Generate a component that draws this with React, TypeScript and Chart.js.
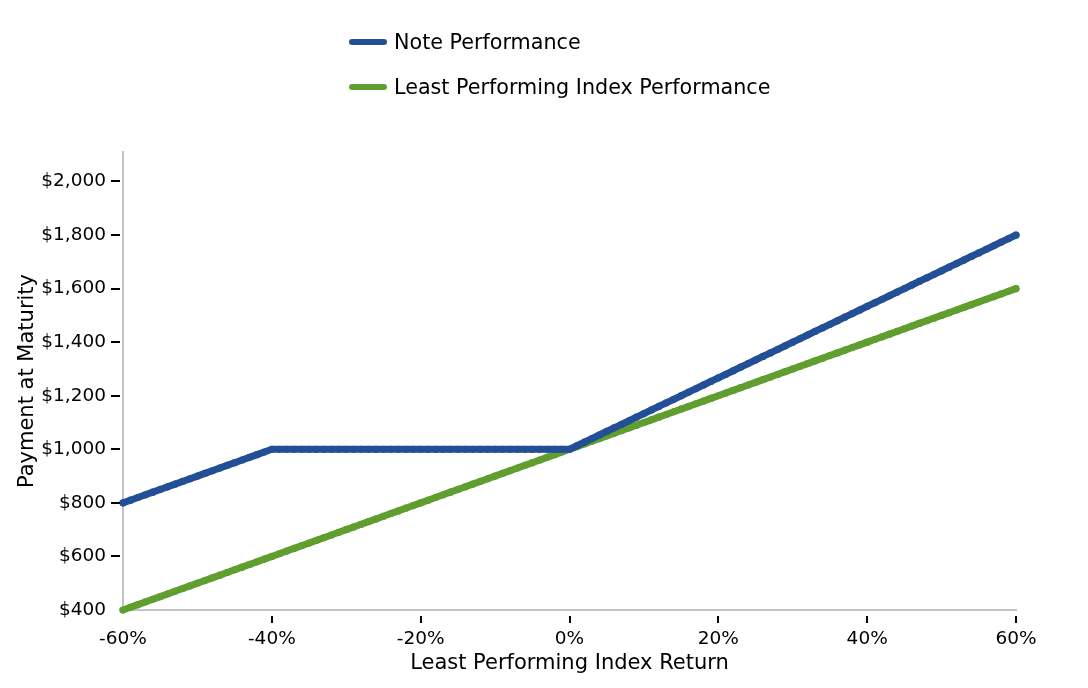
import { useEffect, useRef } from "react";
import { Chart, registerables, type ChartConfiguration, type Plugin } from "chart.js";

Chart.register(...registerables);

// index return in %, one point per percent
const returns = [
  -60, -59, -58, -57, -56, -55, -54, -53, -52, -51,
  -50, -49, -48, -47, -46, -45, -44, -43, -42, -41,
  -40, -39, -38, -37, -36, -35, -34, -33, -32, -31,
  -30, -29, -28, -27, -26, -25, -24, -23, -22, -21,
  -20, -19, -18, -17, -16, -15, -14, -13, -12, -11,
  -10, -9, -8, -7, -6, -5, -4, -3, -2, -1,
  0, 1, 2, 3, 4, 5, 6, 7, 8, 9,
  10, 11, 12, 13, 14, 15, 16, 17, 18, 19,
  20, 21, 22, 23, 24, 25, 26, 27, 28, 29,
  30, 31, 32, 33, 34, 35, 36, 37, 38, 39,
  40, 41, 42, 43, 44, 45, 46, 47, 48, 49,
  50, 51, 52, 53, 54, 55, 56, 57, 58, 59,
  60,
];

const notePayment = [
  800, 810, 820, 830, 840, 850, 860, 870, 880, 890,
  900, 910, 920, 930, 940, 950, 960, 970, 980, 990,
  1000, 1000, 1000, 1000, 1000, 1000, 1000, 1000, 1000, 1000,
  1000, 1000, 1000, 1000, 1000, 1000, 1000, 1000, 1000, 1000,
  1000, 1000, 1000, 1000, 1000, 1000, 1000, 1000, 1000, 1000,
  1000, 1000, 1000, 1000, 1000, 1000, 1000, 1000, 1000, 1000,
  1000, 1013.33, 1026.67, 1040, 1053.33, 1066.67, 1080, 1093.33, 1106.67, 1120,
  1133.33, 1146.67, 1160, 1173.33, 1186.67, 1200, 1213.33, 1226.67, 1240, 1253.33,
  1266.67, 1280, 1293.33, 1306.67, 1320, 1333.33, 1346.67, 1360, 1373.33, 1386.67,
  1400, 1413.33, 1426.67, 1440, 1453.33, 1466.67, 1480, 1493.33, 1506.67, 1520,
  1533.33, 1546.67, 1560, 1573.33, 1586.67, 1600, 1613.33, 1626.67, 1640, 1653.33,
  1666.67, 1680, 1693.33, 1706.67, 1720, 1733.33, 1746.67, 1760, 1773.33, 1786.67,
  1800,
];

const indexPayment = [
  400, 410, 420, 430, 440, 450, 460, 470, 480, 490,
  500, 510, 520, 530, 540, 550, 560, 570, 580, 590,
  600, 610, 620, 630, 640, 650, 660, 670, 680, 690,
  700, 710, 720, 730, 740, 750, 760, 770, 780, 790,
  800, 810, 820, 830, 840, 850, 860, 870, 880, 890,
  900, 910, 920, 930, 940, 950, 960, 970, 980, 990,
  1000, 1010, 1020, 1030, 1040, 1050, 1060, 1070, 1080, 1090,
  1100, 1110, 1120, 1130, 1140, 1150, 1160, 1170, 1180, 1190,
  1200, 1210, 1220, 1230, 1240, 1250, 1260, 1270, 1280, 1290,
  1300, 1310, 1320, 1330, 1340, 1350, 1360, 1370, 1380, 1390,
  1400, 1410, 1420, 1430, 1440, 1450, 1460, 1470, 1480, 1490,
  1500, 1510, 1520, 1530, 1540, 1550, 1560, 1570, 1580, 1590,
  1600,
];

const seriesNames = ["Note Performance", "Least Performing Index Performance"];
const seriesColors = ["#224f96", "#5f9e2f"];

const FONT = "'DejaVu Sans', sans-serif";
const AXIS = "#c4c4c8";

// short black tick marks, set off from the axis line, first tick skipped
const tickMarks: Plugin = {
  id: "tickMarks",
  afterDraw(chart) {
    const { ctx, chartArea, scales } = chart;
    ctx.save();
    ctx.strokeStyle = "#000";
    ctx.lineWidth = 2;
    ctx.beginPath();
    scales.y.ticks.forEach((t, i) => {
      if (i === 0) return;
      const py = Math.round(scales.y.getPixelForValue(t.value));
      ctx.moveTo(chartArea.left - 12, py);
      ctx.lineTo(chartArea.left - 3, py);
    });
    scales.x.ticks.forEach((t, i) => {
      if (i === 0) return;
      const px = Math.round(scales.x.getPixelForValue(t.value));
      ctx.moveTo(px, chartArea.bottom + 6);
      ctx.lineTo(px, chartArea.bottom + 13);
    });
    ctx.stroke();
    ctx.restore();
  },
};

export default function App() {
  const canvasRef = useRef<HTMLCanvasElement>(null);
  const chartRef = useRef<Chart | null>(null);

  useEffect(() => {
    const ctx = canvasRef.current?.getContext("2d");
    if (!ctx) return;
    chartRef.current?.destroy();

    const mk = (values: number[], i: number) => ({
      label: seriesNames[i],
      data: returns.map((x, k) => ({ x, y: values[k] })),
      borderColor: seriesColors[i],
      backgroundColor: seriesColors[i],
      pointBackgroundColor: seriesColors[i],
      borderWidth: 7,
      pointRadius: 3.6,
      pointBorderWidth: 0,
      pointHoverRadius: 3.6,
      borderCapStyle: "round" as const,
      borderJoinStyle: "round" as const,
      tension: 0,
      clip: false as const,
    });

    const config: ChartConfiguration = {
      type: "line",
      data: { datasets: [mk(notePayment, 0), mk(indexPayment, 1)] },
      options: {
        responsive: true,
        maintainAspectRatio: false,
        animation: false,
        layout: { padding: { top: 144, left: 7, right: 64, bottom: 4 } },
        plugins: { legend: { display: false }, tooltip: { enabled: false } },
        scales: {
          x: {
            type: "linear",
            min: -60,
            max: 60,
            afterFit: (s) => { s.height = 66; },
            ticks: {
              stepSize: 20,
              color: "#000",
              font: { family: FONT, size: 18.5 },
              padding: 18,
              callback: (v) => `${v}%`,
            },
            grid: { drawOnChartArea: false, drawTicks: false },
            border: { color: AXIS, width: 2 },
            title: {
              display: true,
              text: "Least Performing Index Return",
              color: "#000",
              font: { family: FONT, size: 21 },
              padding: 0,
            },
          },
          y: {
            min: 400,
            max: 2110,
            afterFit: (s) => { s.width = 108; },
            ticks: {
              stepSize: 200,
              includeBounds: false,
              color: "#000",
              font: { family: FONT, size: 18.5 },
              padding: 17,
              callback: (v) => "$" + Number(v).toLocaleString("en-US"),
            },
            grid: { drawOnChartArea: false, drawTicks: false },
            border: { color: AXIS, width: 2 },
            title: {
              display: true,
              text: "Payment at Maturity",
              color: "#000",
              font: { family: FONT, size: 21 },
              padding: 0,
            },
          },
        },
      },
      plugins: [tickMarks],
    };

    chartRef.current = new Chart(ctx, config);
    return () => chartRef.current?.destroy();
  }, []);

  const legendRow = (i: number, top: number) => (
    <div
      key={i}
      style={{ position: "absolute", left: 341, top, display: "flex", alignItems: "center", height: 24 }}
    >
      <span
        style={{ width: 38, height: 6, borderRadius: 3, background: seriesColors[i], display: "inline-block" }}
      />
      <span style={{ marginLeft: 7, fontFamily: FONT, fontSize: 20.7, color: "#000", whiteSpace: "nowrap" }}>
        {seriesNames[i]}
      </span>
    </div>
  );

  return (
    <div style={{ position: "relative", width: 1072, height: 672 }}>
      <canvas ref={canvasRef} />
      {legendRow(0, 22)}
      {legendRow(1, 67)}
    </div>
  );
}
